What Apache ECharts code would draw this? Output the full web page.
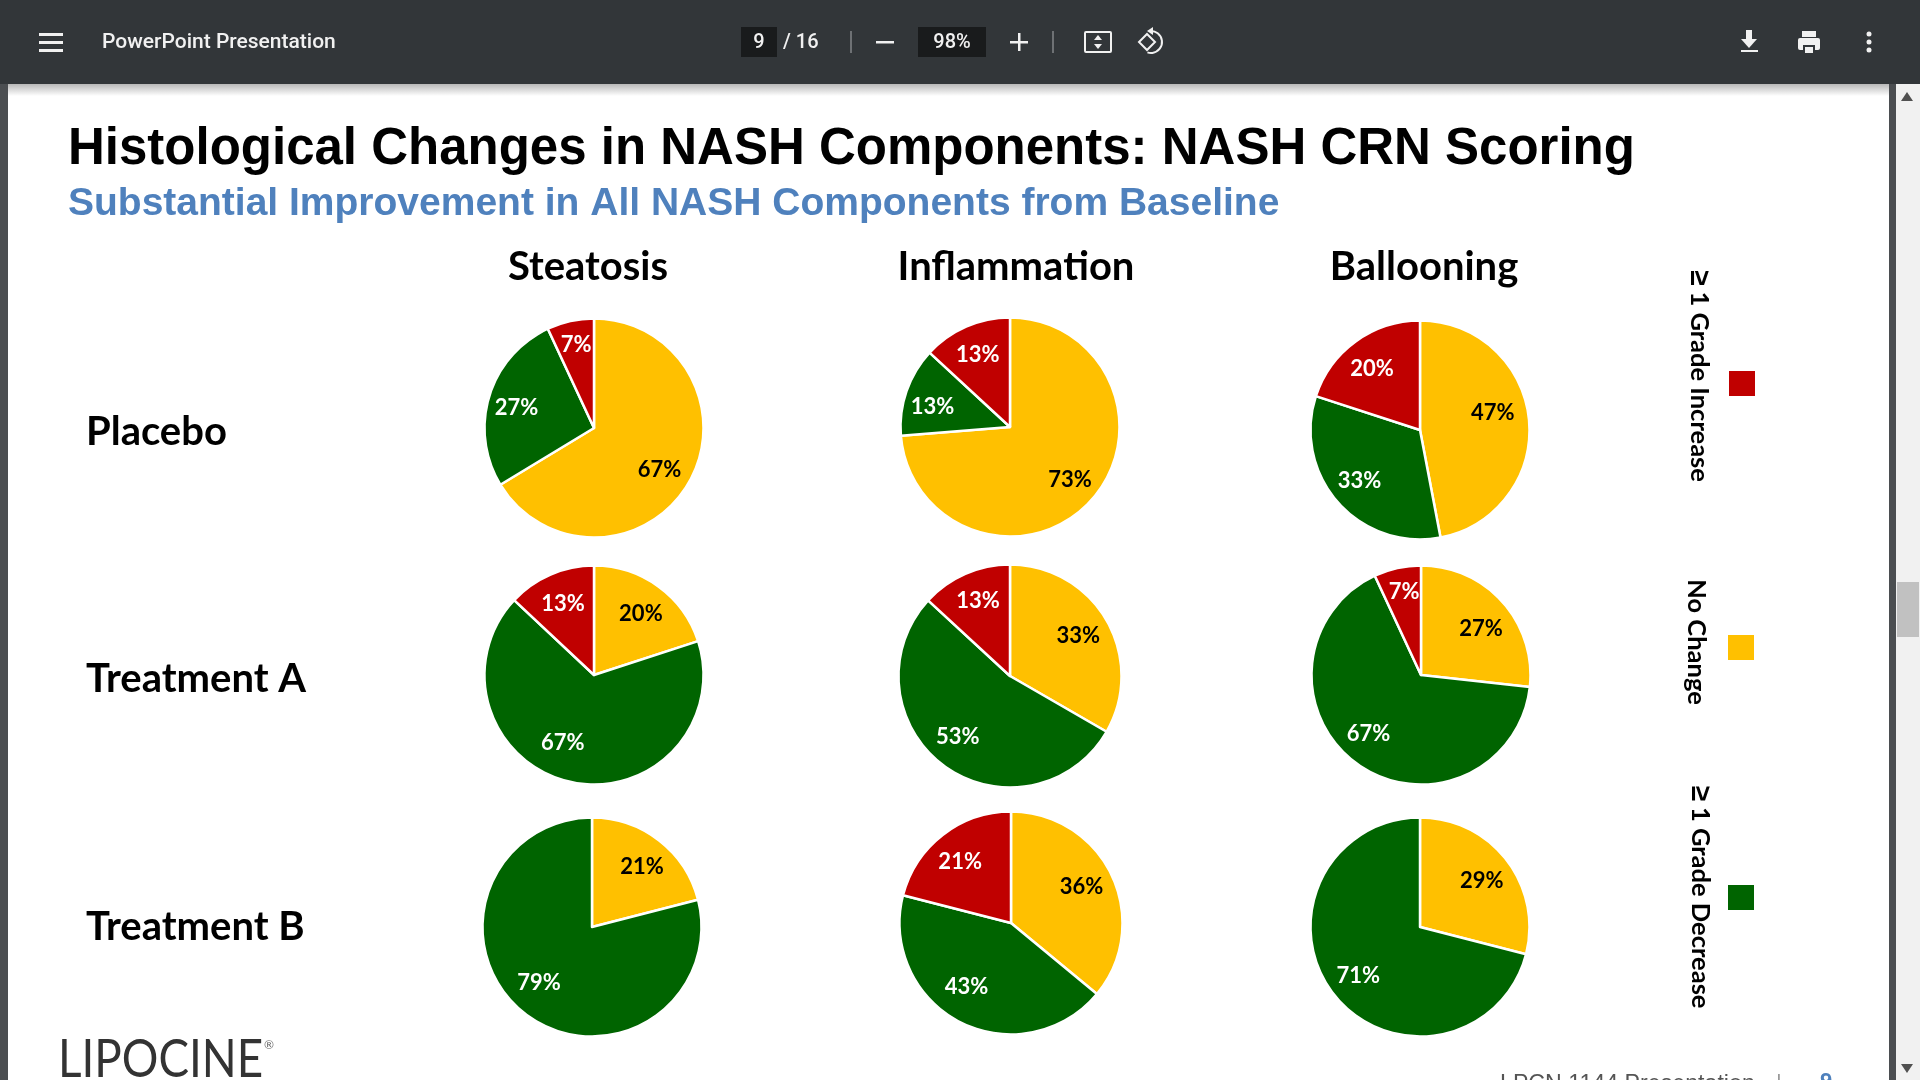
<!DOCTYPE html>
<html>
<head>
<meta charset="utf-8">
<title>Histological Changes in NASH Components</title>
<script src="https://cdn.jsdelivr.net/npm/echarts@6/dist/echarts.min.js"></script>
<style>
    html, body { margin: 0; padding: 0; background: #fff; }
    #main { width: 1920px; height: 1080px; }
</style>
</head>
<body>
<div id="main"></div>
<script>
// Chart data (rows = groups, columns = components)
const components = ['Steatosis', 'Inflammation', 'Ballooning'];
const groups = ['Placebo', 'Treatment A', 'Treatment B'];
const sliceNames = ['No Change', '≥ 1 Grade Decrease', '≥ 1 Grade Increase'];
const noChange = [[67, 73, 47], [20, 33, 27], [21, 36, 29]];
const gradeDecrease = [[27, 13, 33], [67, 53, 67], [79, 43, 71]];
const gradeIncrease = [[7, 13, 20], [13, 13, 7], [0, 21, 0]];

const RED = '#c00000';
const YELLOW = '#ffc000';
const GREEN = '#006400';
const sliceColors = [YELLOW, GREEN, RED];
const labelColors = ['#000', '#fff', '#fff'];

// Layout of the slide
const pieCenters = [
    [[594, 428], [1010, 427], [1420, 430]],
    [[594, 675], [1010, 676], [1421, 675]],
    [[592, 927], [1011, 923], [1420, 927]]
];
const pieRadii = [
    [109.5, 109.5, 109.5],
    [109.5, 111.5, 109.5],
    [109.5, 111.5, 109.5]
];
// hand placed label corrections in px, same order as the slices
const labelNudges = [
    [[[-7, 1], [2, 4], [0, -2]], [[-1, -4], [1, 7], [1, 4]], [[-10, -9], [2, -4], [1, 6]]],
    [[[-2, 6], [-13, -13], [2, 5]], [[-5, 2], [-2, -7], [2, 2]], [[-2, 9], [-4, -9], [1, -2]]],
    [[[-1, 6], [-2, -10], [0, 0]], [[-6, 0], [-6, -11], [1, 6]], [[-4, 5], [4, -2], [0, 0]]]
];
const columnTitleX = [583, 1011, 1419];
const rowTitleY = [430, 677, 925];
const LABEL_FONT = 'Lato, "Noto Sans", sans-serif';

const chart = echarts.init(document.getElementById('main'), null, { renderer: 'canvas' });

// One pie per cell
const series = [];
groups.forEach((group, r) => {
    components.forEach((component, c) => {
        const values = [noChange[r][c], gradeDecrease[r][c], gradeIncrease[r][c]];
        const center = pieCenters[r][c];
        const nudges = labelNudges[r][c];
        series.push({
            name: group + ' ' + component,
            type: 'pie',
            silent: true,
            animation: false,
            startAngle: 90,
            clockwise: true,
            center: center,
            radius: [0, pieRadii[r][c]],
            data: values.map((value, i) => ({
                name: sliceNames[i],
                value: value,
                itemStyle: { color: sliceColors[i] },
                label: { color: labelColors[i] }
            })).filter(item => item.value > 0),
            itemStyle: { borderColor: '#fff', borderWidth: 2.5 },
            label: {
                show: true,
                position: 'inside',
                formatter: p => p.value + '%',
                fontFamily: LABEL_FONT,
                fontWeight: 'bold',
                fontSize: 22
            },
            labelLine: { show: false },
            // inside labels sit at half radius, the slide has them further out
            labelLayout: params => {
                const lx = params.labelRect.x + params.labelRect.width / 2;
                const ly = params.labelRect.y + params.labelRect.height / 2;
                const nudge = nudges[params.dataIndex];
                return {
                    dx: (lx - center[0]) * 0.44 + nudge[0],
                    dy: (ly - center[1]) * 0.44 + nudge[1]
                };
            }
        });
    });
});

const titles = [
    { text: 'Histological Changes in NASH Components: NASH CRN Scoring', left: 63, top: 119,
      textStyle: { fontFamily: '"Liberation Sans", Arial, sans-serif', fontWeight: 'bold', fontSize: 51, color: '#000' } },
    { text: 'Substantial Improvement in All NASH Components from Baseline', left: 63, top: 180,
      textStyle: { fontFamily: '"Liberation Sans", Arial, sans-serif', fontWeight: 'bold', fontSize: 39, color: '#4f81bd' } }
];
components.forEach((component, c) => {
    titles.push({ text: component, left: columnTitleX[c], top: 242, textAlign: 'center',
        textStyle: { fontFamily: LABEL_FONT, fontWeight: 'bold', fontSize: 40, color: '#000' } });
});
groups.forEach((group, r) => {
    titles.push({ text: group, left: 81, top: rowTitleY[r] - 23,
        textStyle: { fontFamily: LABEL_FONT, fontWeight: 'bold', fontSize: 40, color: '#000' } });
});

// Legend is rotated on the slide, so it is drawn by hand
const legendNames = ['{ge|≥}1 Grade Increase', 'No Change', '{ge|≥}1 Grade Decrease'];
const legendColors = [RED, YELLOW, GREEN];
const legendTextPos = [[1699, 376], [1696, 642], [1700, 897]];
const legendBoxPos = [[1742, 383], [1741, 647], [1741, 897]];

const graphic = [];
legendNames.forEach((name, i) => {
    graphic.push({
        type: 'text', x: legendTextPos[i][0], y: legendTextPos[i][1], rotation: -Math.PI / 2,
        style: {
            text: name, fill: '#000', font: 'bold 25.5px ' + LABEL_FONT, textAlign: 'center', textVerticalAlign: 'middle',
            rich: { ge: { font: 'bold 28px "Noto Sans", sans-serif', fill: '#000', padding: [0, 6, 0, 0] } }
        }
    });
    graphic.push({
        type: 'rect', shape: { x: legendBoxPos[i][0] - 13, y: legendBoxPos[i][1] - 12, width: 26, height: 25 },
        style: { fill: legendColors[i] }
    });
});

// Footer of the slide, cut off by the bottom of the window
graphic.push(
    { type: 'text', x: 58, y: 1060, scaleX: 0.88, style: { text: 'LIPOCINE', fill: '#333', font: '400 52px Lato, sans-serif', textVerticalAlign: 'middle' } },
    { type: 'text', x: 264, y: 1045, style: { text: '®', fill: '#666', font: '12px Lato, sans-serif', textVerticalAlign: 'middle' } },
    { type: 'text', x: 1500, y: 1073, style: { text: 'LPCN 1144 Presentation', fill: '#555', font: '23.2px "Liberation Sans", sans-serif', textVerticalAlign: 'top' } },
    { type: 'text', x: 1776, y: 1073, style: { text: '|', fill: '#999', font: '22px "Liberation Sans", sans-serif', textVerticalAlign: 'top' } },
    { type: 'text', x: 1820, y: 1071, style: { text: '9', fill: '#4f81bd', font: 'bold 22px "Liberation Sans", sans-serif', textVerticalAlign: 'top' } }
);

// PDF viewer frame around the slide
const BAR = '#323639';
const BAR_FONT = 'Roboto, sans-serif';
const white = { fill: '#f1f1f1' };
function barRect(x, y, w, h, fill) {
    return { type: 'rect', shape: { x: x, y: y, width: w, height: h }, style: fill ? { fill: fill } : white };
}
function barText(text, x, font, align) {
    return { type: 'text', x: x, y: 43, style: { text: text, fill: '#f1f1f1', font: font, textAlign: align || 'left', textVerticalAlign: 'middle' } };
}
graphic.push(
    barRect(0, 84, 8, 996, '#4b4e51'),
    barRect(1889, 84, 7, 996, '#4b4e51'),
    barRect(1896, 84, 24, 996, '#f1f1f1'),
    barRect(1897, 582, 22, 55, '#c1c1c1'),
    { type: 'polygon', shape: { points: [[1907, 92], [1901, 101], [1913, 101]] }, style: { fill: '#505050' } },
    { type: 'polygon', shape: { points: [[1907, 1073], [1901, 1064], [1913, 1064]] }, style: { fill: '#505050' } },
    {
        type: 'rect', shape: { x: 8, y: 84, width: 1881, height: 12 },
        style: { fill: new echarts.graphic.LinearGradient(0, 0, 0, 1, [
            { offset: 0, color: 'rgba(0,0,0,0.28)' }, { offset: 1, color: 'rgba(0,0,0,0)' }
        ]) }
    },
    barRect(0, 0, 1920, 84, BAR),
    // hamburger
    barRect(39, 33, 24, 3), barRect(39, 41, 24, 3), barRect(39, 49, 24, 3),
    barText('PowerPoint Presentation', 102, '500 21px ' + BAR_FONT),
    // page box
    barRect(741, 27, 36, 30, '#191b1c'),
    barText('9', 759, '500 20px ' + BAR_FONT, 'center'),
    barText('/ 16', 783, '500 20px ' + BAR_FONT),
    barRect(850, 31, 2, 22, '#6e7174'),
    // zoom
    barRect(876, 41, 18, 2.5),
    barRect(918, 27, 68, 30, '#191b1c'),
    barText('98%', 952, '500 20px ' + BAR_FONT, 'center'),
    barRect(1010, 41, 18, 2.5), barRect(1018, 33, 2.5, 18),
    barRect(1052, 31, 2, 22, '#6e7174'),
    // fit to page
    { type: 'rect', shape: { x: 1085, y: 32, width: 26, height: 20, r: 1 }, style: { stroke: '#f1f1f1', lineWidth: 2, fill: null } },
    { type: 'polygon', shape: { points: [[1098, 35], [1094, 40], [1102, 40]] }, style: white },
    { type: 'polygon', shape: { points: [[1098, 49], [1094, 44], [1102, 44]] }, style: white },
    // rotate
    { type: 'polygon', shape: { points: [[1147, 34], [1155, 42], [1147, 50], [1139, 42]] }, style: { stroke: '#f1f1f1', lineWidth: 2, fill: null } },
    { type: 'arc', shape: { cx: 1151, cy: 42, r: 11, startAngle: -1.7, endAngle: 1.9 }, style: { stroke: '#f1f1f1', lineWidth: 2, fill: null } },
    { type: 'polygon', shape: { points: [[1153, 27], [1147, 31], [1153, 35]] }, style: white },
    // download
    barRect(1746, 30, 6, 10), { type: 'polygon', shape: { points: [[1741, 39], [1757, 39], [1749, 48]] }, style: white },
    barRect(1741, 50, 17, 2),
    // print
    barRect(1802, 31, 14, 6),
    { type: 'rect', shape: { x: 1798, y: 38, width: 22, height: 12, r: 2 }, style: white },
    barRect(1803, 45, 12, 8, BAR),
    barRect(1805, 47, 8, 6),
    // more
    { type: 'circle', shape: { cx: 1869, cy: 34, r: 2.5 }, style: white },
    { type: 'circle', shape: { cx: 1869, cy: 42, r: 2.5 }, style: white },
    { type: 'circle', shape: { cx: 1869, cy: 50, r: 2.5 }, style: white }
);

chart.setOption({
    backgroundColor: '#fff',
    animation: false,
    title: titles,
    series: series,
    graphic: graphic
});
</script>
</body>
</html>
